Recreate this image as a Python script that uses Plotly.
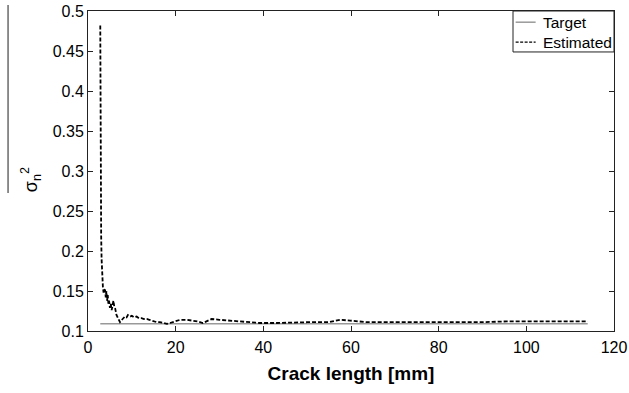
import plotly.graph_objects as go

# Data
target_x = [2.8, 114.0]
target_y = [0.109, 0.109]

est_x = [2.8, 2.85, 2.9, 2.95, 3.0, 3.1, 3.2, 3.3, 3.4, 3.55, 3.7, 3.9, 4.05, 4.2, 4.35, 4.5, 4.65, 4.8, 5.0,
         5.2, 5.4, 5.6, 5.8, 6.0, 6.2, 6.5, 6.8, 7.3,
         7.9, 8.4, 8.8, 9.1, 9.6, 10.0, 10.5, 11.1, 11.6, 12.2, 12.8, 13.4, 14.0, 14.5, 15.1, 15.7, 16.4, 17.0,
         18.0, 18.7, 19.4, 20.2, 21.0, 22.5, 24.0,
         25.0, 26.2, 27.2, 28.2, 30.0, 33.0, 36.2, 39.2, 43.0, 46.8, 50.0, 55.0, 57.5, 59.8, 63.6, 70.0,
         78.8, 85.0, 90.0, 95.5, 100.0, 105.0, 110.0, 114.0]
est_y = [0.482, 0.36, 0.30, 0.25, 0.22, 0.19, 0.165, 0.158, 0.155, 0.148, 0.152, 0.151, 0.142, 0.150, 0.138,
         0.145, 0.134, 0.138, 0.129,
         0.134, 0.126, 0.132, 0.138, 0.130, 0.128, 0.120, 0.116, 0.111,
         0.115, 0.118, 0.117, 0.120, 0.118, 0.119, 0.117, 0.118, 0.116, 0.116, 0.115, 0.115, 0.114, 0.113, 0.112,
         0.111, 0.111, 0.110,
         0.109, 0.110, 0.111, 0.113, 0.114, 0.114, 0.113,
         0.112, 0.110, 0.113, 0.115, 0.114, 0.113, 0.111, 0.110, 0.110, 0.111, 0.111, 0.111, 0.114, 0.113,
         0.111, 0.111,
         0.111, 0.111, 0.111, 0.112, 0.112, 0.112, 0.112, 0.112]

x_ticks = [0, 20, 40, 60, 80, 100, 120]
y_ticks = [0.1, 0.15, 0.2, 0.25, 0.3, 0.35, 0.4, 0.45, 0.5]
legend_names = ["Target", "Estimated"]

FONT = "Liberation Sans, Arial, sans-serif"
TARGET_COLOR = "#999999"
EST_DASH = "4px,2px"

fig = go.Figure()
fig.add_trace(go.Scatter(x=target_x, y=target_y, mode="lines", name=legend_names[0],
                         line=dict(color=TARGET_COLOR, width=1.5), showlegend=False))
fig.add_trace(go.Scatter(x=est_x, y=est_y, mode="lines", name=legend_names[1],
                         line=dict(color="black", width=1.8, dash=EST_DASH), showlegend=False))

axis_common = dict(showgrid=False, zeroline=False, showline=True, linecolor="#222222", linewidth=1,
                   mirror="ticks", ticks="inside", ticklen=5, tickcolor="#222222", automargin=False,
                   tickfont=dict(family=FONT, size=16, color="black"))

fig.update_layout(
    width=629, height=393,
    margin=dict(l=88, r=15, t=11, b=62),
    paper_bgcolor="white", plot_bgcolor="white",
    font=dict(family=FONT, color="black"),
    xaxis=dict(range=[0, 120], tickvals=x_ticks, ticklabelstandoff=2,
               title=dict(text="<b>Crack length [mm]</b>", font=dict(family=FONT, size=19), standoff=11),
               **axis_common),
    yaxis=dict(range=[0.1, 0.5], tickvals=y_ticks, **axis_common),
    showlegend=False,
)

# Legend box (drawn in the style of the reference)
fig.add_shape(type="rect", xref="paper", yref="paper", x0=0.808, x1=1.0, y0=0.872, y1=1.0,
              line=dict(color="#222222", width=1), fillcolor="white", layer="above")
fig.add_shape(type="line", xref="paper", yref="paper", x0=0.813, x1=0.851, y0=0.965, y1=0.965,
              line=dict(color=TARGET_COLOR, width=1.5), layer="above")
fig.add_shape(type="line", xref="paper", yref="paper", x0=0.813, x1=0.851, y0=0.903, y1=0.903,
              line=dict(color="black", width=1.2, dash="3px,1.5px"), layer="above")
for name, yy in zip(legend_names, [0.965, 0.903]):
    fig.add_annotation(text=name, xref="paper", yref="paper", x=0.862, y=yy, xanchor="left",
                       yanchor="middle", showarrow=False, font=dict(family=FONT, size=15.5, color="black"))

# y-axis label (overlined sigma_n^2, rotated)
fig.add_annotation(text="σ<sub>n</sub><sup>2</sup>", xref="paper", yref="paper",
                   x=-0.108, y=0.472, xanchor="center", yanchor="middle", showarrow=False, textangle=-90,
                   font=dict(family=FONT, size=18, color="black"))
fig.add_shape(type="line", xref="paper", yref="paper", x0=-0.152, x1=-0.152, y0=0.431, y1=1.019,
              line=dict(color="#444444", width=1.2))

fig.write_html("out.html")
